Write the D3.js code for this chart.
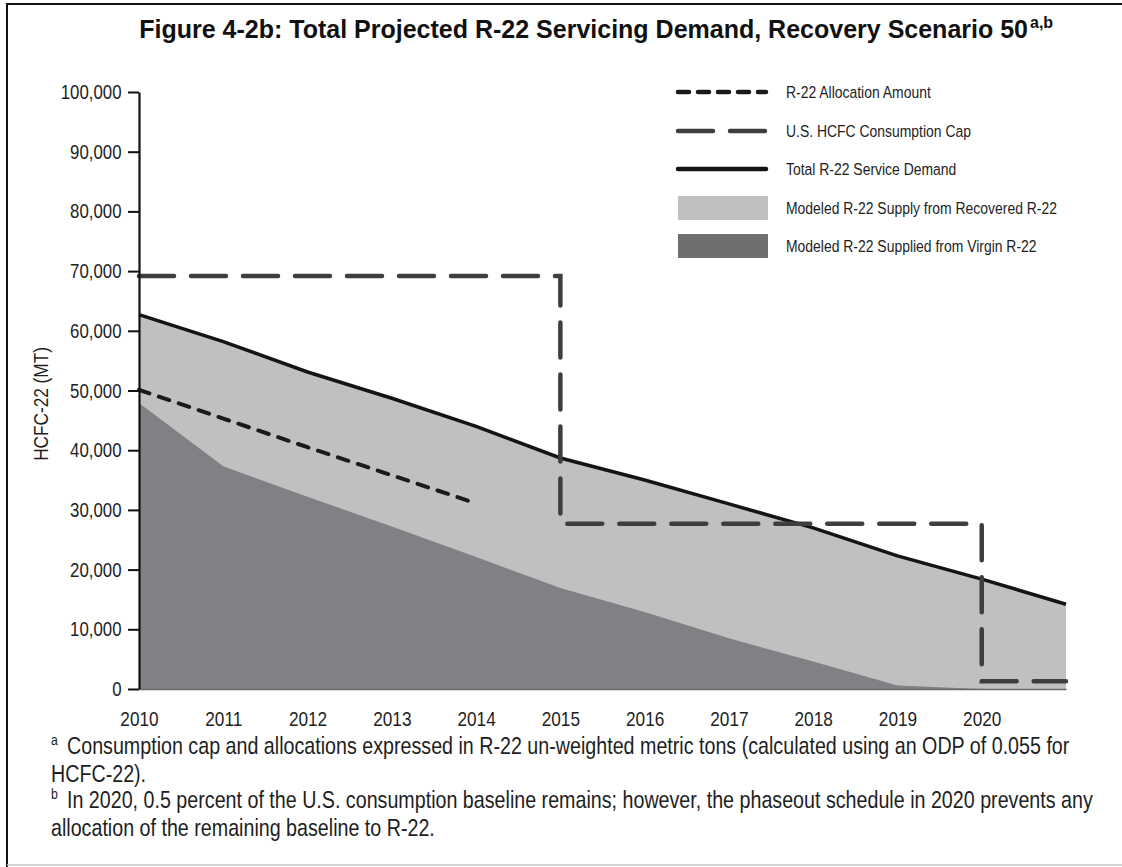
<!DOCTYPE html>
<meta charset="utf-8">
<style>
  body { margin: 0; background: #fff; }
  svg { display: block; }
  text { font-family: 'Liberation Sans', Arial, sans-serif; fill: #1e1e1e; }
</style>

<body>
  <script src="https://d3js.org/d3.v7.min.js"></script>
  <script>
    // values (metric tons)
    var years = [2010, 2011, 2012, 2013, 2014, 2015, 2016, 2017, 2018, 2019, 2020, 2021];
    var demand = [62700, 58200, 53100, 48700, 44000, 38700, 35000, 31000, 27000, 22300, 18400, 14200];
    var virgin = [47900, 37300, 32200, 27200, 22100, 16900, 12900, 8500, 4600, 600, 0, 0];

    var allocYears = [2010, 2011, 2012, 2013, 2014];
    var allocation = [50100, 45300, 40500, 35800, 31100];

    var capYears = [2010, 2015, 2020, 2021];
    var cap = [69200, 27700, 1300, 1300];

    var xTicks = [2010, 2011, 2012, 2013, 2014, 2015, 2016, 2017, 2018, 2019, 2020];
    var yTicks = [0, 10000, 20000, 30000, 40000, 50000, 60000, 70000, 80000, 90000, 100000];

    var legendLabels = [
      "R-22 Allocation Amount",
      "U.S. HCFC Consumption Cap",
      "Total R-22 Service Demand",
      "Modeled R-22 Supply from Recovered R-22",
      "Modeled R-22 Supplied from Virgin R-22"
    ];

    var notes = [
      { sup: "a", text: "Consumption cap and allocations expressed in R-22 un-weighted metric tons (calculated using an ODP of 0.055 for" },
      { sup: "", text: "HCFC-22)." },
      { sup: "b", text: "In 2020, 0.5 percent of the U.S. consumption baseline remains; however, the phaseout schedule in 2020 prevents any" },
      { sup: "", text: "allocation of the remaining baseline to R-22." }
    ];

    var W = 1122, H = 867;
    var narrow = 0.82; // the figure uses a condensed face; squeeze Liberation Sans to match
    var lightFill = "#c0c0c0", darkFill = "#808185";

    var x = d3.scaleLinear()
      .domain([2010, 2021])
      .range([139, 1066]);

    var y = d3.scaleLinear()
      .domain([0, 100000])
      .range([689, 92]);

    var svg = d3.select("body").append("svg")
      .attr("width", W)
      .attr("height", H);

    // frame
    svg.append("line").attr("x1", 7).attr("x2", W).attr("y1", 4).attr("y2", 4)
      .style("stroke", "#111").style("stroke-width", 2);
    svg.append("line").attr("x1", 7).attr("x2", 7).attr("y1", 3).attr("y2", H)
      .style("stroke", "#111").style("stroke-width", 2);
    svg.append("line").attr("x1", 7).attr("x2", W).attr("y1", 865).attr("y2", 865)
      .style("stroke", "#c4c4c4").style("stroke-width", 1.5);

    // title
    svg.append("text")
      .attr("x", 1028).attr("y", 38)
      .attr("text-anchor", "end")
      .style("font-weight", "bold").style("font-size", "25px").style("fill", "#111")
      .text("Figure 4-2b: Total Projected R-22 Servicing Demand, Recovery Scenario 50");
    svg.append("text")
      .attr("x", 1030).attr("y", 28)
      .style("font-weight", "bold").style("font-size", "16px").style("fill", "#111")
      .text("a,b");

    var rows = years.map(function (yr, i) {
      return { year: yr, demand: demand[i], virgin: virgin[i] };
    });

    // recovered supply sits between virgin and demand
    svg.append("path")
      .datum(rows)
      .attr("d", d3.area()
        .x(function (d) { return x(d.year); })
        .y0(y(0))
        .y1(function (d) { return y(d.demand); }))
      .style("fill", lightFill);

    svg.append("path")
      .datum(rows)
      .attr("d", d3.area()
        .x(function (d) { return x(d.year); })
        .y0(y(0))
        .y1(function (d) { return y(d.virgin); }))
      .style("fill", darkFill);

    svg.append("path")
      .datum(rows)
      .attr("d", d3.line()
        .x(function (d) { return x(d.year); })
        .y(function (d) { return y(d.demand); }))
      .style("fill", "none")
      .style("stroke", "#141414")
      .style("stroke-width", 3.5);

    svg.append("path")
      .datum(allocYears.map(function (yr, i) { return [yr, allocation[i]]; }))
      .attr("d", d3.line()
        .x(function (d) { return x(d[0]); })
        .y(function (d) { return y(d[1]); }))
      .style("fill", "none")
      .style("stroke", "#1a1a1a")
      .style("stroke-width", 4)
      .style("stroke-linecap", "round")
      .style("stroke-dasharray", "11,10");

    svg.append("path")
      .datum(capYears.map(function (yr, i) { return [yr, cap[i]]; }))
      .attr("d", d3.line()
        .curve(d3.curveStepAfter)
        .x(function (d) { return x(d[0]); })
        .y(function (d) { return y(d[1]); }))
      .style("fill", "none")
      .style("stroke", "#3e3e3e")
      .style("stroke-width", 4.5)
      .style("stroke-linecap", "round")
      .style("stroke-dasharray", "35,17");

    // axes
    var xAxis = svg.append("g")
      .attr("transform", "translate(0," + y(0) + ")")
      .call(d3.axisBottom(x).tickValues(xTicks).tickSize(0).tickFormat(d3.format("d")));
    xAxis.select(".domain").style("stroke", "#6a6a6a").style("stroke-width", 1.5);
    xAxis.selectAll("text")
      .attr("y", 37).attr("dy", 0)
      .attr("transform", "scale(" + narrow + ",1)")
      .style("font-size", "21px");

    var yAxis = svg.append("g")
      .attr("transform", "translate(" + x(2010) + ",0)")
      .call(d3.axisLeft(y).tickValues(yTicks).tickSize(11).tickSizeOuter(0).tickFormat(d3.format(",")));
    yAxis.select(".domain").style("stroke", "#111").style("stroke-width", 2.2);
    yAxis.selectAll(".tick line").style("stroke", "#111").style("stroke-width", 2);
    yAxis.selectAll("text")
      .attr("x", -17.5 / narrow)
      .attr("transform", "scale(" + narrow + ",1)")
      .style("font-size", "20.5px");

    svg.append("text")
      .attr("transform", "translate(48,404) rotate(-90) scale(" + narrow + ",1)")
      .attr("text-anchor", "middle")
      .style("font-size", "21px")
      .text("HCFC-22 (MT)");

    // legend
    var legendY = [92, 131, 169, 208, 246];
    var legend = svg.selectAll(".legend")
      .data(legendLabels)
      .enter()
      .append("g")
      .attr("class", "legend")
      .attr("transform", function (d, i) {
        return "translate(676," + legendY[i] + ")";
      });

    legend.filter(function (d, i) { return i < 3; })
      .append("line")
      .attr("x1", 2).attr("x2", 90).attr("y1", 0).attr("y2", 0)
      .style("stroke", function (d, i) { return ["#1a1a1a", "#3e3e3e", "#141414"][i]; })
      .style("stroke-width", 4.5)
      .style("stroke-linecap", "round")
      .style("stroke-dasharray", function (d, i) { return ["11,9", "35,17", null][i]; });

    legend.filter(function (d, i) { return i >= 3; })
      .append("rect")
      .attr("x", 2).attr("y", -12).attr("width", 90).attr("height", 24)
      .style("fill", function (d, i) { return [lightFill, "#6f6f70"][i]; });

    legend.append("text")
      .attr("transform", "translate(110,6) scale(" + narrow + ",1)")
      .style("font-size", "17px")
      .text(function (d) { return d; });

    // footnotes
    var noteY = [754, 782, 808, 836];
    var noteG = svg.selectAll(".note")
      .data(notes)
      .enter()
      .append("g")
      .attr("class", "note")
      .attr("transform", function (d, i) {
        return "translate(51," + noteY[i] + ") scale(" + narrow + ",1)";
      });
    noteG.append("text")
      .attr("y", -9)
      .style("font-size", "15px")
      .text(function (d) { return d.sup; });
    noteG.append("text")
      .attr("x", function (d) { return d.sup ? 16 / narrow : 0; })
      .style("font-size", "24px")
      .text(function (d) { return d.text; });
  </script>
</body>
